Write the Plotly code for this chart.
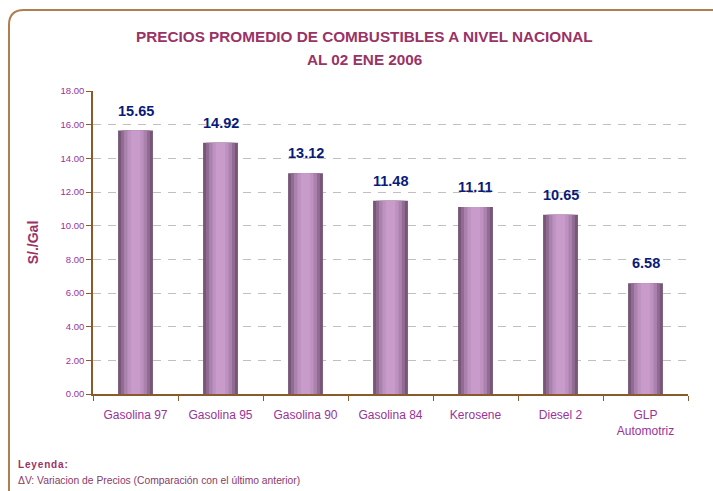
import plotly.graph_objects as go

combustibles = ["Gasolina 97", "Gasolina 95", "Gasolina 90", "Gasolina 84",
                "Kerosene", "Diesel 2", "GLP<br>Automotriz"]
precios = [15.65, 14.92, 13.12, 11.48, 11.11, 10.65, 6.58]
y_ticks = [0, 2, 4, 6, 8, 10, 12, 14, 16, 18]

title_color = "#993366"
tick_color = "#993399"
axis_brown = "#8b5a2b"
font_main = "Liberation Sans, Arial, sans-serif"

fig = go.Figure()

# cylinder look: overlay progressively narrower, lighter bars
layers = [(0.41, "#775677"), (0.34, "#906c92"), (0.27, "#aa82ad"),
          (0.19, "#bd91c0"), (0.11, "#c99bcb")]
for w, c in layers:
    fig.add_trace(go.Bar(
        x=combustibles, y=precios, width=w,
        marker=dict(color=c, line=dict(width=0)),
        hoverinfo="skip", showlegend=False
    ))

# value labels above bars
for cat, val in zip(combustibles, precios):
    fig.add_annotation(
        x=cat, y=val, text="<b>%.2f</b>" % val, showarrow=False,
        yanchor="bottom", yshift=10,
        font=dict(family=font_main, size=14.5, color="#0a1a7a")
    )

# rounded frame around the chart
fig.add_shape(
    type="path", xref="paper", yref="paper",
    path="M -0.1412,-0.4 L -0.1412,1.2178 Q -0.1412,1.2673 -0.116,1.2673 L 1.1,1.2673",
    line=dict(color="#b07d4e", width=2)
)

# two-line title
fig.add_annotation(
    xref="paper", yref="paper", x=0.457, y=1.1815, xanchor="center", yanchor="middle",
    text="<b>PRECIOS PROMEDIO DE COMBUSTIBLES A NIVEL NACIONAL</b>", showarrow=False,
    font=dict(family=font_main, size=15.3, color=title_color)
)
fig.add_annotation(
    xref="paper", yref="paper", x=0.457, y=1.1056, xanchor="center", yanchor="middle",
    text="<b>AL 02 ENE 2006</b>", showarrow=False,
    font=dict(family=font_main, size=15.3, color=title_color)
)

hair = "\u200a"
fig.add_annotation(
    xref="paper", yref="paper", x=-0.129, y=-0.2343, xanchor="left", yanchor="middle",
    text="<b>" + hair.join("Leyenda:") + "</b>", showarrow=False,
    font=dict(family=font_main, size=10, color=title_color)
)
fig.add_annotation(
    xref="paper", yref="paper", x=-0.129, y=-0.2871, xanchor="left", yanchor="middle",
    text="ΔV: Variacion de Precios (Comparación con el último anterior)", showarrow=False,
    font=dict(family=font_main, size=10.3, color="#8a3a6a")
)

fig.update_layout(
    barmode="overlay",
    width=713, height=491,
    margin=dict(l=93, r=25, t=91, b=97),
    paper_bgcolor="white", plot_bgcolor="white",
    xaxis=dict(
        automargin=False,
        showline=True, linecolor=axis_brown, linewidth=1.5,
        ticks="outside", tickson="boundaries", ticklen=5, tickcolor=axis_brown,
        ticklabelstandoff=9,
        tickfont=dict(family=font_main, size=12, color=tick_color),
        showgrid=False
    ),
    yaxis=dict(
        automargin=False,
        range=[0, 18], tickvals=y_ticks, tickformat=".2f",
        showline=True, linecolor=axis_brown, linewidth=1.5,
        ticks="outside", ticklen=5, tickcolor=axis_brown,
        tickfont=dict(family=font_main, size=9.5, color=tick_color),
        showgrid=True, gridcolor="#c0c0c0", gridwidth=1, griddash="8px,7px",
        title=dict(text="<b>S/./Gal</b>", standoff=19,
                   font=dict(family=font_main, size=14, color=title_color)),
        zeroline=False
    )
)

# drop the default 8px page margin so the figure sits at the window origin
fig.write_html("out.html", config={"displayModeBar": False},
               post_script="document.body.style.margin='0';")
